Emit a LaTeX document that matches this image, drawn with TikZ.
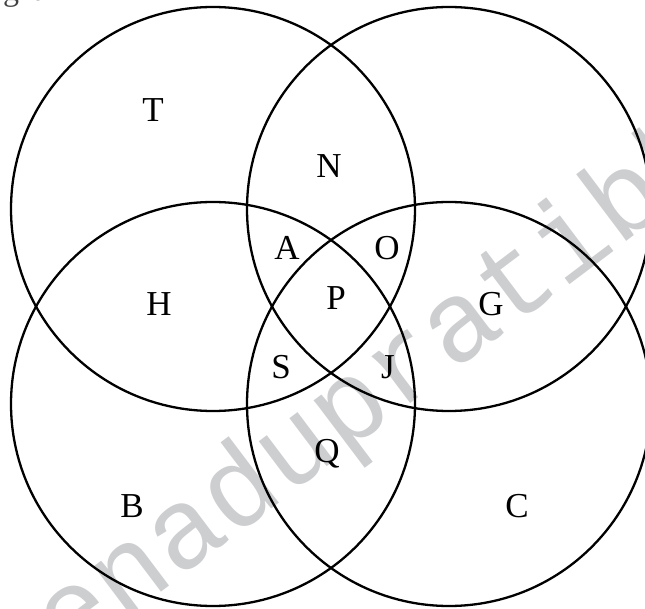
\documentclass[tikz,border=0pt]{standalone}
\usepackage{fontspec}
\setmainfont{Liberation Serif}
\newfontfamily\markfont{Liberation Mono}
\usetikzlibrary{positioning}
\definecolor{markgray}{RGB}{205,206,208}
\tikzset{
  ring/.style={draw, circle, minimum size=404pt, inner sep=0pt, line width=2.3pt},
  lbl/.style={anchor=base, inner sep=0pt, font=\fontsize{35}{40}\selectfont},
  wmark/.style={inner sep=0pt, rotate=37, text=markgray, font=\markfont\fontsize{115}{120}\selectfont},
}

\begin{document}
\begin{tikzpicture}[x=1pt, y=-1pt]
\useasboundingbox (0,0) rectangle (645,609);
\clip (0,0) rectangle (645,609);

\node[wmark] (mark) at (380,390) {eenadupratibha};
\node[anchor=base west, inner sep=0pt, text=black!75, font=\fontsize{32}{36}\selectfont] (frag) at (3,1) {g\hspace{14pt}a};

% the four sets
\node[ring] (tl) at (213,209) {};
\node[ring] (tr) at (449,209) {};
\node[ring] (bl) at (213,404) {};
\node[ring] (br) at (449,404) {};

% region labels
\node[lbl] (T) at (153,122) {T};
\node[lbl] (N) at (329,178) {N};
\node[lbl] (A) at (287,260) {A};
\node[lbl] (O) at (387,260) {O};
\node[lbl] (H) at (159,316) {H};
\node[lbl] (P) at (336,310) {P};
\node[lbl] (G) at (491,316) {G};
\node[lbl] (S) at (281,378) {S};
\node[lbl] (J) at (388,378) {J};
\node[lbl] (Q) at (327,462) {Q};
\node[lbl] (B) at (132,517) {B};
\node[lbl] (C) at (517,517) {C};

\end{tikzpicture}
\end{document}
